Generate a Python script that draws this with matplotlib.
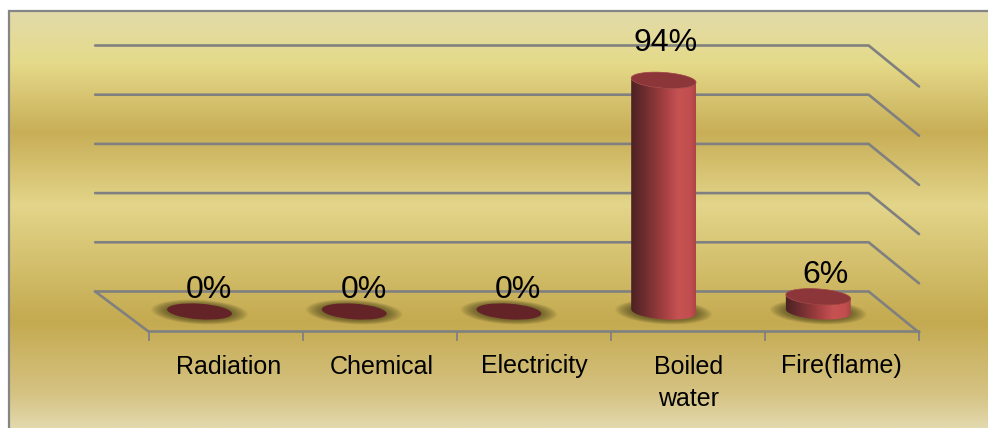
import numpy as np
import matplotlib
matplotlib.use("Agg")
import matplotlib.pyplot as plt
from matplotlib.colors import LinearSegmentedColormap
from matplotlib.patches import PathPatch, Ellipse
from matplotlib.path import Path

categories = ["Radiation", "Chemical", "Electricity", "Boiled\nwater", "Fire(flame)"]
values = [0, 0, 0, 94, 6]
value_labels = ["0%", "0%", "0%", "94%", "6%"]
grid_values = [0, 20, 40, 60, 80, 100]

W, H = 988, 428
plt.rcParams["font.family"] = ["Liberation Sans", "DejaVu Sans"]
fig = plt.figure(figsize=(W / 100, H / 100), dpi=100, facecolor="white")

# pixel-space canvas (y down)
pix = fig.add_axes([0, 0, 1, 1])
pix.set_xlim(0, W)
pix.set_ylim(H, 0)
pix.axis("off")

# value axes: the mid-depth plane of the 3D box
X0, X1, Y0, Y100 = 122.15, 895.65, 311.5, 65.5
ax = fig.add_axes([X0 / W, 1 - Y0 / H, (X1 - X0) / W, (Y0 - Y100) / H], frameon=False)
ax.set_xlim(-0.5, 4.5)
ax.set_ylim(0, 100)
ax.axis("off")
ax.patch.set_alpha(0)


def to_px(x, y):
    px, py = pix.transData.inverted().transform(ax.transData.transform((x, y)))
    return px, py


def front_x(c):
    return 148.5 + (c + 0.5) * 154.1


# background
stops = [(11, "#e2dba9"), (62, "#e5da8a"), (132, "#c8ae57"), (205, "#e3d58a"),
         (322, "#c4aa50"), (395, "#d6c384"), (428, "#e2d9ac")]
bg = LinearSegmentedColormap.from_list(
    "bg", [((y - 11) / (428 - 11), c) for y, c in stops])
pix.imshow(np.linspace(0, 1, 512)[:, None], cmap=bg, aspect="auto",
           extent=(9, W, H, 11), zorder=0, interpolation="bilinear")
pix.set_xlim(0, W)
pix.set_ylim(H, 0)
pix.plot([9, 9, W], [H, 11, 11], color="#858585", lw=1.6, zorder=1,
         solid_joinstyle="miter")

# 3D box
GRID = "#808080"
DX_BACK, DY = -27.0, 20.0
for g in grid_values:
    xl, y = to_px(-0.5, g)
    xr, _ = to_px(4.5, g)
    back_y = y - DY
    pix.plot([xl + DX_BACK, xr + DX_BACK, front_x(4.5)],
             [back_y, back_y, back_y + 41], color=GRID, lw=1.9, zorder=2,
             solid_capstyle="round", solid_joinstyle="miter")
xl, y0 = to_px(-0.5, 0)
pix.plot([xl + DX_BACK, front_x(-0.5), front_x(4.5)],
         [y0 - DY, y0 + DY, y0 + DY], color=GRID, lw=1.9, zorder=2,
         solid_joinstyle="miter")
for i in range(6):
    tx = front_x(i - 0.5)
    pix.plot([tx, tx], [y0 + DY, y0 + DY + 8], color=GRID, lw=1.3, zorder=2)

# cylinders
A, B, TILT = 32.5, 7.8, np.deg2rad(4.0)
body_cmap = LinearSegmentedColormap.from_list(
    "body", [(0, "#4b2122"), (0.2, "#6a2c2e"), (0.5, "#a23e41"), (0.72, "#c65252"),
             (0.9, "#c24e4f"), (1, "#a84243")])


def ellipse_xy(cx, cy, t):
    ex, ey = A * np.cos(t), B * np.sin(t)
    return (cx + ex * np.cos(TILT) - ey * np.sin(TILT),
            cy + ex * np.sin(TILT) + ey * np.cos(TILT))


for i, v in enumerate(values):
    cx, base = to_px(i, 0)
    _, top = to_px(i, v)
    # soft shadow
    for k in range(14):
        f = 1 - k / 14
        pix.add_patch(Ellipse((cx, base + 0.5), 2 * A + 32 * f, 2 * B + 9 * f,
                              angle=3, fc="#3f3a18", ec="none", alpha=0.055, zorder=3))
    if v == 0:
        pix.add_patch(Ellipse((cx, base), 2 * A, 2 * B, angle=np.rad2deg(TILT),
                              fc="#642327", ec="none", zorder=4))
        continue
    t = np.linspace(np.pi, 0, 80)
    bx, by = ellipse_xy(cx, base, t)
    tx, ty = ellipse_xy(cx, top, t[::-1])
    verts = np.r_[np.c_[bx, by], np.c_[tx, ty], [[bx[0], by[0]]]]
    clip = PathPatch(Path(verts), transform=pix.transData, fc="none", ec="none")
    pix.add_patch(clip)
    im = pix.imshow(np.linspace(0, 1, 256)[None, :], cmap=body_cmap, aspect="auto",
                    extent=(cx - A - 1, cx + A + 1, base + B + 3, top - B - 3),
                    zorder=4, interpolation="bilinear")
    im.set_clip_path(clip)
    tt = np.linspace(0, 2 * np.pi, 120)
    ex, ey = ellipse_xy(cx, top, tt)
    pix.add_patch(PathPatch(Path(np.c_[ex, ey]), fc="#8c3639", ec="#a04446", lw=0.5, zorder=5))
    pix.set_xlim(0, W)
    pix.set_ylim(H, 0)

# text
label_dx = [9.5, 9.5, 8.5, 1.5, 7]
label_dy = [-14, -14, -14, -29, -14]
for i, (v, s) in enumerate(zip(values, value_labels)):
    cx, top = to_px(i, v)
    pix.text(cx + label_dx[i], top + label_dy[i], s, ha="center", va="baseline",
             fontsize=23, color="black", zorder=7)

cat_dx = [3.5, 2.4, 0.5, 0.5, -0.5]
for i, c in enumerate(categories):
    pix.text(front_x(i) + cat_dx[i], 354.5, c, ha="center", va="top", fontsize=18,
             color="black", zorder=7, linespacing=1.47)

fig.savefig("out.png", dpi=100, facecolor="white")
